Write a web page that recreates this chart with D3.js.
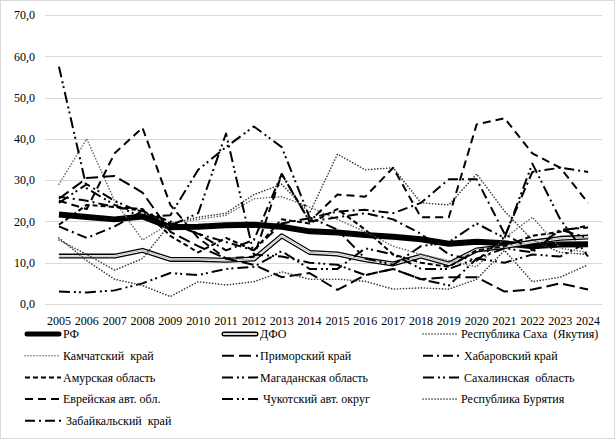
<!DOCTYPE html>
<html>
<head>
<meta charset="utf-8">
<script src="https://cdn.jsdelivr.net/npm/d3@7"></script>
<style>
    body { margin: 0; background: #fff; }
    text { font-family: "Liberation Serif", "Times New Roman", serif; fill: #000; }
</style>
</head>
<body>
<svg id="chart" width="616" height="441"></svg>
<script>
// categories and tick labels
const years = ["2005", "2006", "2007", "2008", "2009", "2010", "2011", "2012", "2013", "2014",
               "2015", "2016", "2017", "2018", "2019", "2020", "2021", "2022", "2023", "2024"];
const yTicks = [0, 10, 20, 30, 40, 50, 60, 70];

// series values
const rf         = [21.7, 21.1, 20.5, 21.2, 18.6, 18.7, 19.1, 19.2, 18.7, 17.6, 17.3, 16.7, 16.3, 15.7, 14.6, 15.1, 14.7, 14.0, 14.4, 14.5];
const dfo        = [11.6, 11.6, 11.6, 13.0, 10.8, 10.8, 10.6, 10.9, 16.5, 12.5, 12.1, 10.7, 9.7, 11.6, 9.7, 13.1, 13.9, 15.0, 15.9, 16.2];
const sakha      = [15.5, 12.0, 8.2, 11.0, 19.5, 21.0, 22.0, 26.5, 29.0, 22.0, 36.3, 32.5, 33.0, 24.5, 24.0, 31.5, 22.5, 15.5, 12.5, 12.0];
const kamchatka  = [29.0, 40.0, 25.0, 15.5, 19.5, 20.5, 21.5, 25.5, 26.0, 23.5, 20.5, 17.5, 14.0, 12.0, 10.5, 9.0, 16.0, 21.0, 13.5, 12.5];
const primorsky  = [25.5, 30.5, 31.0, 27.0, 17.5, 14.0, 11.0, 9.5, 6.5, 7.5, 3.4, 7.0, 8.5, 6.0, 6.5, 6.5, 3.0, 3.5, 5.0, 3.5];
const khabarovsk = [26.0, 25.0, 23.5, 22.5, 20.0, 17.0, 15.0, 13.0, 19.5, 20.8, 22.4, 22.8, 22.0, 24.5, 30.2, 30.2, 17.0, 13.0, 18.0, 18.5];
const amur       = [19.2, 24.0, 23.5, 23.0, 16.5, 12.5, 16.0, 13.0, 20.5, 19.5, 23.0, 18.0, 12.0, 10.0, 9.0, 13.0, 14.0, 16.5, 17.5, 19.0];
const magadan    = [24.5, 29.0, 25.0, 22.0, 19.0, 22.0, 41.3, 12.0, 11.5, 10.0, 9.5, 7.0, 8.5, 6.0, 4.5, 11.0, 13.5, 12.5, 18.0, 16.0];
const sakhalin   = [3.0, 2.8, 3.3, 5.0, 7.5, 7.0, 8.5, 9.0, 12.8, 8.5, 8.5, 13.5, 12.0, 8.5, 8.5, 11.0, 10.0, 12.0, 11.5, 15.0];
const evrey      = [25.0, 23.0, 36.5, 42.7, 24.0, 16.0, 11.0, 11.5, 31.5, 20.0, 26.5, 26.0, 33.0, 21.0, 21.0, 43.5, 45.0, 36.5, 33.0, 24.5];
const chukotka   = [57.5, 28.0, 24.0, 21.0, 21.5, 32.5, 38.0, 43.0, 38.0, 21.0, 18.0, 11.0, 9.5, 14.0, 15.0, 19.5, 16.0, 34.0, 20.5, 11.5];
const buryatia   = [16.0, 10.5, 6.0, 4.5, 1.8, 5.4, 4.6, 5.4, 7.8, 6.0, 6.0, 5.5, 3.6, 3.9, 3.6, 6.0, 13.0, 5.4, 6.5, 9.5];
const zabaikal   = [18.8, 16.0, 18.8, 22.5, 19.5, 17.0, 13.0, 15.5, 31.5, 20.0, 21.0, 22.0, 20.5, 17.0, 12.0, 10.5, 16.3, 32.0, 33.0, 32.0];

// line styles (Excel-like dash types)
const Styles = {
    rf:       { stroke: "#000", width: 6 },
    dfo:      { stroke: "#000", width: 5, double: true },
    dot:      { stroke: "#3a3a3a", width: 1.6, dash: "0.1 2.9", cap: "round" },
    dotLight: { stroke: "#6a6a6a", width: 1.6, dash: "0.1 2.9", cap: "round" },
    longDash: { stroke: "#000", width: 2, dash: "12 5" },
    dashDot:  { stroke: "#000", width: 2, dash: "10 4 2 4" },
    dash:     { stroke: "#000", width: 2, dash: "5 3" },
    dash2:    { stroke: "#000", width: 2, dash: "8 5" },
    dashDotDot: { stroke: "#000", width: 2, dash: "11 4 2 3 2 4" }
};

const series = [
    { name: "РФ", values: rf, style: Styles.rf },
    { name: "ДФО", values: dfo, style: Styles.dfo },
    { name: "Республика Саха  (Якутия)", values: sakha, style: Styles.dot },
    { name: "Камчатский  край", values: kamchatka, style: Styles.dotLight },
    { name: "Приморский край", values: primorsky, style: Styles.longDash },
    { name: " Хабаровский край", values: khabarovsk, style: Styles.dashDot },
    { name: "Амурская область", values: amur, style: Styles.dash },
    { name: "Магаданская область", values: magadan, style: Styles.dashDotDot },
    { name: " Сахалинская  область", values: sakhalin, style: Styles.dashDotDot },
    { name: "Еврейская авт. обл.", values: evrey, style: Styles.dash2 },
    { name: " Чукотский авт. округ", values: chukotka, style: Styles.dashDotDot },
    { name: "Республика Бурятия", values: buryatia, style: Styles.dot },
    { name: " Забайкальский  край", values: zabaikal, style: Styles.dashDot }
];

const Dims = {
    width: 616, height: 441,
    plotLeft: 45, plotRight: 602, plotTop: 15, plotBottom: 304,
    fontSize: 12,
    legendTop: 334, legendRowStep: 21.7,
    legendCols: [25, 222, 423], legendSample: 36
};

const svg = d3.select("#chart");

// chart area border
svg.append("rect")
    .attr("x", 0.5).attr("y", 0.5)
    .attr("width", Dims.width - 2).attr("height", Dims.height - 3)
    .attr("fill", "#fff")
    .attr("stroke", "#d9d9d9");

const x = d3.scaleBand()
    .domain(years)
    .range([Dims.plotLeft, Dims.plotRight]);
const xc = d => x(d) + x.bandwidth() / 2;

const y = d3.scaleLinear()
    .domain([0, 70])
    .range([Dims.plotBottom, Dims.plotTop]);

// gridlines
svg.append("g")
    .selectAll("line")
    .data(yTicks)
    .join("line")
    .attr("x1", Dims.plotLeft).attr("x2", Dims.plotRight)
    .attr("y1", d => Math.round(y(d)) + 0.5).attr("y2", d => Math.round(y(d)) + 0.5)
    .attr("stroke", "#d9d9d9")
    .attr("stroke-width", 1);

// y axis labels
svg.append("g")
    .attr("transform", `translate(${Dims.plotLeft},0)`)
    .call(d3.axisLeft(y).tickValues(yTicks).tickSize(0).tickPadding(10)
        .tickFormat(d => d3.format(".1f")(d).replace(".", ",")))
    .call(g => g.select(".domain").remove())
    .call(g => g.selectAll("text")
        .attr("font-size", Dims.fontSize)
        .attr("font-family", "Liberation Serif, Times New Roman, serif"));

// x axis labels
svg.append("g")
    .attr("transform", `translate(0,${Dims.plotBottom})`)
    .call(d3.axisBottom(x).tickSize(0).tickPadding(12))
    .call(g => g.select(".domain").remove())
    .call(g => g.selectAll("text")
        .attr("font-size", Dims.fontSize)
        .attr("font-family", "Liberation Serif, Times New Roman, serif"));

function applyStyle(sel, st) {
    sel.attr("fill", "none")
        .attr("stroke", st.stroke)
        .attr("stroke-width", st.width)
        .attr("stroke-linejoin", "round")
        .attr("stroke-linecap", st.cap || "butt")
        .attr("stroke-dasharray", st.dash || null);
}

const line = d3.line()
    .x((d, i) => xc(years[i]))
    .y(d => y(d));

// draw the series (first series at the bottom, like Excel)
const linesG = svg.append("g");
series.forEach(s => {
    if (s.style.double) {
        linesG.append("path").attr("d", line(s.values))
            .call(applyStyle, { stroke: "#000", width: 5 });
        linesG.append("path").attr("d", line(s.values))
            .call(applyStyle, { stroke: "#fff", width: 2.4 });
        linesG.append("path").attr("d", line(s.values))
            .call(applyStyle, { stroke: "#9a9a9a", width: 0.7 });
    } else {
        linesG.append("path").attr("d", line(s.values))
            .call(applyStyle, s.style);
    }
});

// legend
const legend = svg.append("g");
series.forEach((s, i) => {
    const col = i % 3, row = Math.floor(i / 3);
    const lx = Dims.legendCols[col];
    const ly = Dims.legendTop + row * Dims.legendRowStep;
    const g = legend.append("g").attr("transform", `translate(${lx},${ly})`);
    if (s.style.double) {
        g.append("line").attr("x1", 2).attr("x2", Dims.legendSample - 2)
            .call(applyStyle, { stroke: "#000", width: 5, cap: "round" });
        g.append("line").attr("x1", 2).attr("x2", Dims.legendSample - 2)
            .call(applyStyle, { stroke: "#fff", width: 2.2, cap: "round" });
        g.append("line").attr("x1", 2).attr("x2", Dims.legendSample - 2)
            .call(applyStyle, { stroke: "#9a9a9a", width: 0.7 });
    } else if (s.style === Styles.rf) {
        g.append("line").attr("x1", 2).attr("x2", Dims.legendSample - 2)
            .call(applyStyle, { stroke: "#000", width: 5, cap: "round" });
    } else {
        g.append("line").attr("x1", 0).attr("x2", Dims.legendSample)
            .call(applyStyle, s.style);
    }
    g.append("text")
        .attr("x", Dims.legendSample + 2)
        .attr("y", 0)
        .attr("dy", "0.35em")
        .attr("font-size", Dims.fontSize)
        .style("white-space", "pre")
        .text(s.name);
});
</script>
</body>
</html>
